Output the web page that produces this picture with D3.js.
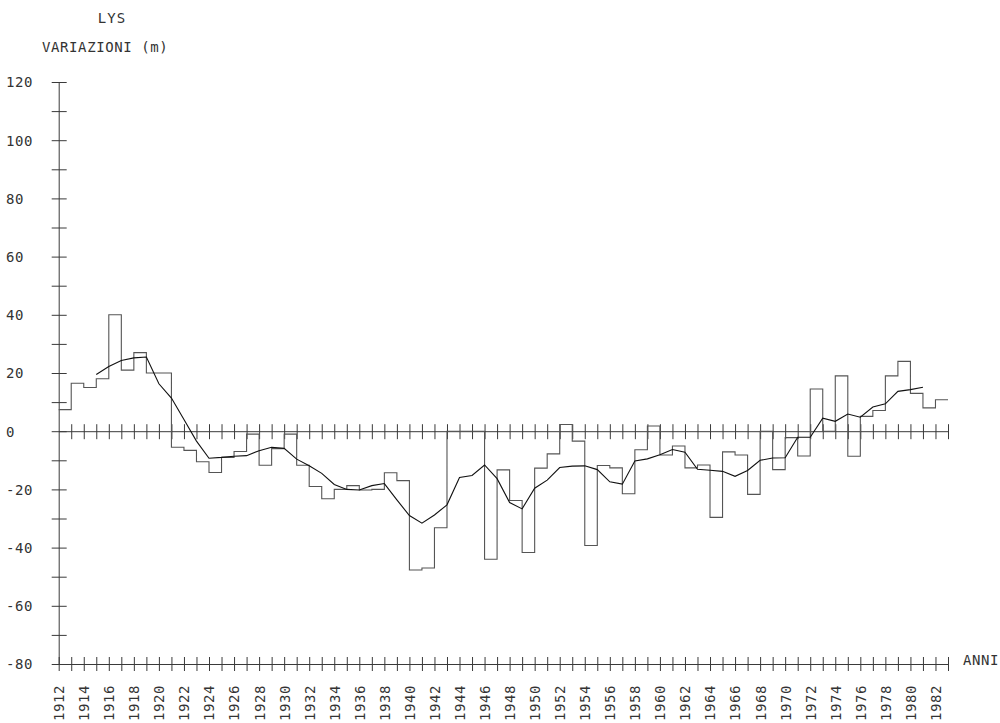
<!DOCTYPE html>
<html>
<head>
<meta charset="utf-8">
<script src="https://cdn.jsdelivr.net/npm/d3@7"></script>
<style>
  body { margin: 0; background: #fff; }
  text { font-family: "DejaVu Sans Mono", "Liberation Mono", monospace; fill: #333; }
</style>
</head>
<body>
<svg id="chart" width="1000" height="723"></svg>
<script>
// yearly variations of the Lys glacier front (m), 1912-1982
const years = d3.range(1912, 1983)
const variazioni = [
  7.4, 16.5, 15, 18, 40, 21, 27, 20, 20, -5.5,
  -6.6, -10.5, -14.2, -9, -7, -1, -11.7, -6, -1, -11.7,
  -19, -23.2, -20, -18.7, -20.2, -20, -14.3, -17, -47.7, -47,
  -33.2, 0, 0, 0, -44, -13.3, -23.8, -41.7, -12.7, -7.8,
  2.3, -3.4, -39.3, -11.8, -12.6, -21.5, -6.4, 1.8, -8.2, -5.1,
  -12.6, -11.6, -29.6, -7.1, -8.2, -21.7, 0, -13.2, -2.2, -8.5,
  14.5, 0, 19, -8.6, 5.1, 7.1, 19, 24, 13, 8,
  10.8
]

// smoothed curve, read at the year ticks 1915-1981
const smoothYears = d3.range(1915, 1982)
const smoothVals = [
  19.5, 22.2, 24.3, 25.2, 25.5, 16.3, 11.4, 4, -3.4, -9.3,
  -9, -8.6, -8.4, -6.7, -5.5, -5.9, -9.6, -11.9, -14.5, -18.3,
  -20, -20.2, -18.7, -18, -23.6, -29, -31.6, -28.8, -25.3, -15.9,
  -15.2, -11.6, -16.3, -24.5, -26.7, -19.6, -16.8, -12.5, -12, -11.9,
  -13.2, -17.4, -18.2, -10.2, -9.5, -8.1, -6.3, -7.2, -13.1, -13.4,
  -13.8, -15.5, -13.5, -10, -9.2, -9.1, -2.1, -2.1, 4.5, 3.4,
  5.9, 4.8, 8.3, 9.4, 13.7, 14.3, 15.1
]

const yTicks = d3.range(-80, 121, 10)
const yLabels = d3.range(-80, 121, 20)
const xTicks = d3.range(1912, 1984)
const xLabels = d3.range(1912, 1983, 2)

const svg = d3.select('#chart')
const ink = '#3a3a3a'

const x = d3.scaleLinear().domain([1912, 1983]).range([58.7, 948])
const y = d3.scaleLinear().domain([-80, 120]).range([664, 82])

// y axis, ticks crossing the line
const gy = svg.append('g')
  .attr('transform', 'translate(' + x(1912) + ',0)')
  .call(d3.axisLeft(y).tickValues(yTicks).tickSizeOuter(0)
    .tickFormat(d => yLabels.includes(d) ? d : ''))
gy.select('.domain').attr('stroke', ink)
gy.selectAll('.tick line').attr('x1', -7).attr('x2', 8).attr('stroke', ink)
gy.selectAll('.tick text')
  .attr('x', 6 - x(1912))
  .attr('text-anchor', 'start')
  .attr('dy', '0.35em')
  .style('font-size', '14px')
  .style('letter-spacing', '0.6px')

// bottom axis at -80 with vertical year labels
const gx = svg.append('g')
  .attr('transform', 'translate(0,' + y(-80) + ')')
  .call(d3.axisBottom(x).tickValues(xTicks).tickSizeOuter(0)
    .tickFormat(d => xLabels.includes(d) ? d : ''))
gx.select('.domain').attr('stroke', ink)
gx.selectAll('.tick line').attr('y1', -7).attr('y2', 7).attr('stroke', ink)
gx.selectAll('.tick text')
  .attr('transform', 'translate(0,57) rotate(-90)')
  .attr('x', 0).attr('y', 0)
  .attr('dy', '0.35em')
  .attr('text-anchor', 'start')
  .style('font-size', '14px')
  .style('letter-spacing', '0.6px')

// zero line with year ticks
const g0 = svg.append('g')
  .attr('transform', 'translate(0,' + y(0) + ')')
  .call(d3.axisBottom(x).tickValues(xTicks.slice(1)).tickSizeOuter(0).tickFormat(''))
g0.select('.domain').attr('stroke', ink)
g0.selectAll('.tick line').attr('y1', -7).attr('y2', 8).attr('stroke', ink)

// step series
const steps = years.map((yr, i) => [yr, variazioni[i]])
steps.push([1983, variazioni[variazioni.length - 1]])

svg.append('path')
  .datum(steps)
  .attr('fill', 'none')
  .attr('stroke', '#555')
  .attr('stroke-width', 1.1)
  .attr('d', d3.line().x(d => x(d[0])).y(d => y(d[1])).curve(d3.curveStepAfter))

// smoothed line
svg.append('path')
  .datum(smoothYears.map((yr, i) => [yr, smoothVals[i]]))
  .attr('fill', 'none')
  .attr('stroke', '#111')
  .attr('stroke-width', 1.1)
  .attr('d', d3.line().x(d => x(d[0])).y(d => y(d[1])))

// titles
svg.append('text').attr('x', 112).attr('y', 23).attr('text-anchor', 'middle')
  .style('font-size', '14px').style('letter-spacing', '1px').text('LYS')
svg.append('text').attr('x', 42).attr('y', 52)
  .style('font-size', '14px').style('letter-spacing', '0.6px').text('VARIAZIONI (m)')
svg.append('text').attr('x', 963).attr('y', 665)
  .style('font-size', '14px').style('letter-spacing', '0.6px').text('ANNI')
</script>
</body>
</html>
